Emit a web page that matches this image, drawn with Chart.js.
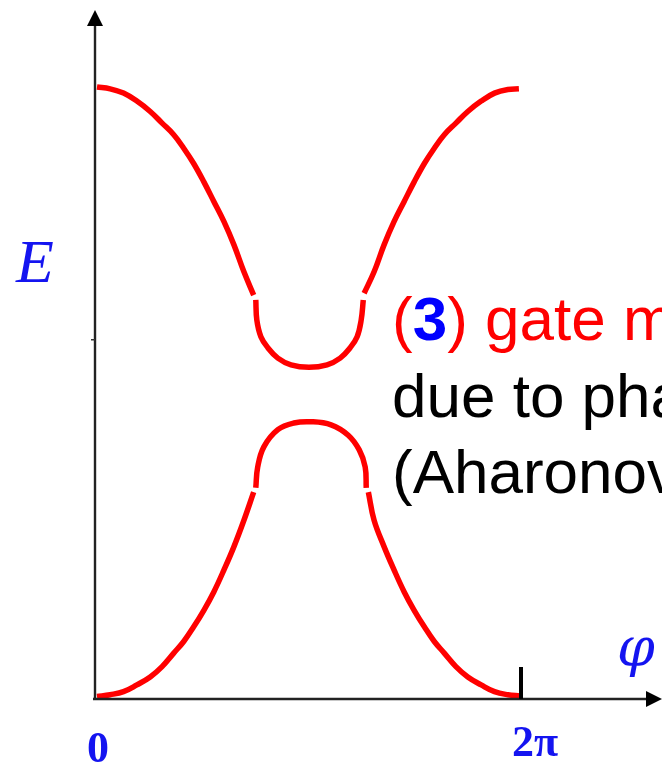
<!DOCTYPE html>
<html>
<head>
<meta charset="utf-8">
<script src="https://cdn.jsdelivr.net/npm/chart.js@4/dist/chart.umd.min.js"></script>
<style>
  html, body { margin: 0; padding: 0; background: #ffffff; }
  canvas { display: block; }
</style>
</head>
<body>
<canvas id="bands" width="662" height="764"></canvas>
<script>
// Phase axis in units of pi (0 .. 2 means 0 .. 2π); energy in arbitrary units.

// Upper band: outer branches and the rounded bottom near φ = π
const upperLeftPhi   = [0, 0.062, 0.125, 0.188, 0.251, 0.307, 0.362, 0.409, 0.456, 0.504, 0.551, 0.599, 0.646, 0.693, 0.739];
const upperLeftE     = [1.000, 0.997, 0.990, 0.977, 0.960, 0.941, 0.922, 0.900, 0.875, 0.845, 0.813, 0.780, 0.742, 0.698, 0.660];
const upperMidPhi    = [0.749, 0.754, 0.773, 0.806, 0.853, 0.915, 1.000, 1.085, 1.147, 1.194, 1.227, 1.246, 1.256];
const upperMidE      = [0.652, 0.619, 0.592, 0.574, 0.557, 0.546, 0.542, 0.546, 0.557, 0.574, 0.592, 0.619, 0.652];
const upperRightPhi  = [1.260, 1.307, 1.354, 1.401, 1.449, 1.496, 1.544, 1.591, 1.638, 1.693, 1.749, 1.812, 1.875, 1.938, 1.990];
const upperRightE    = [0.663, 0.698, 0.742, 0.780, 0.813, 0.845, 0.875, 0.900, 0.922, 0.941, 0.960, 0.977, 0.990, 0.996, 0.997];

// Lower band: outer branches and the rounded top near φ = π
const lowerLeftPhi   = [0, 0.062, 0.125, 0.188, 0.251, 0.307, 0.362, 0.409, 0.456, 0.504, 0.551, 0.599, 0.646, 0.693, 0.739];
const lowerLeftE     = [0.004, 0.007, 0.012, 0.023, 0.036, 0.053, 0.075, 0.094, 0.118, 0.145, 0.175, 0.211, 0.249, 0.292, 0.338];
const lowerMidPhi    = [0.749, 0.758, 0.787, 0.853, 0.929, 1.009, 1.104, 1.185, 1.237, 1.265, 1.270];
const lowerMidE      = [0.345, 0.379, 0.412, 0.440, 0.451, 0.453, 0.448, 0.431, 0.407, 0.379, 0.345];
const lowerRightPhi  = [1.280, 1.307, 1.354, 1.401, 1.449, 1.496, 1.544, 1.591, 1.638, 1.693, 1.749, 1.812, 1.875, 1.938, 1.995];
const lowerRightE    = [0.338, 0.292, 0.249, 0.211, 0.175, 0.145, 0.118, 0.094, 0.075, 0.053, 0.036, 0.023, 0.012, 0.007, 0.005];

// Axis marks and labels
const phiTickValue = 2;          // the 2π mark
const phiTickLabels = ['0', '2π'];
const energyTickValue = 0.587;   // small mark on the energy axis
const axisTitleX = 'φ';
const axisTitleY = 'E';
const captionLines = ['due to pha', '(Aharonov'];

function toPoints(xs, ys) {
  return xs.map((x, i) => ({ x: x, y: ys[i] }));
}

const bandColor = '#ff0000';
function band(xs, ys) {
  return {
    data: toPoints(xs, ys),
    borderColor: bandColor,
    borderWidth: 5.5,
    pointRadius: 0,
    fill: false,
    tension: 0.4,
    borderCapStyle: 'butt'
  };
}

// Arrowed axes, tick marks and text labels
const decorations = {
  id: 'decorations',
  afterDatasetsDraw(chart) {
    const { ctx, chartArea, scales } = chart;
    const xs = scales.x, ys = scales.y;
    const x0 = 95, y0 = ys.getPixelForValue(0);
    ctx.save();
    ctx.strokeStyle = '#222222';
    ctx.fillStyle = '#000000';
    ctx.lineWidth = 2.4;

    // energy axis
    ctx.beginPath();
    ctx.moveTo(x0, y0 + 1);
    ctx.lineTo(x0, chartArea.top + 12);
    ctx.stroke();
    ctx.beginPath();
    ctx.moveTo(x0, chartArea.top);
    ctx.lineTo(x0 - 8, chartArea.top + 16);
    ctx.lineTo(x0 + 8, chartArea.top + 16);
    ctx.closePath();
    ctx.fill();

    // phase axis
    ctx.beginPath();
    ctx.moveTo(x0 - 2, y0);
    ctx.lineTo(chartArea.right - 12, y0);
    ctx.stroke();
    ctx.beginPath();
    ctx.moveTo(chartArea.right, y0);
    ctx.lineTo(chartArea.right - 16, y0 - 8);
    ctx.lineTo(chartArea.right - 16, y0 + 8);
    ctx.closePath();
    ctx.fill();

    // 2π mark
    const tx = xs.getPixelForValue(phiTickValue);
    ctx.lineWidth = 4;
    ctx.strokeStyle = '#000000';
    ctx.beginPath();
    ctx.moveTo(tx, y0 - 32);
    ctx.lineTo(tx, y0);
    ctx.stroke();

    // small energy mark
    const ty = ys.getPixelForValue(energyTickValue);
    ctx.lineWidth = 1.5;
    ctx.strokeStyle = '#333333';
    ctx.beginPath();
    ctx.moveTo(x0 - 4, ty);
    ctx.lineTo(x0, ty);
    ctx.stroke();

    // tick labels
    const blue = '#1414f0';
    ctx.fillStyle = blue;
    ctx.textAlign = 'center';
    ctx.textBaseline = 'alphabetic';
    ctx.font = 'bold 44px "Liberation Serif"';
    ctx.fillText(phiTickLabels[0], xs.getPixelForValue(0) + 1, 762);
    ctx.fillText(phiTickLabels[1], tx + 14, 756);

    // axis titles
    ctx.font = 'italic 62px "Liberation Serif"';
    ctx.fillText(axisTitleY, 35, 282);
    ctx.font = 'italic 54px "DejaVu Serif"';
    ctx.fillText(axisTitleX, 636, 666);

    // caption
    ctx.textAlign = 'left';
    const fs = 62;
    let cx = 392;
    const base1 = 340;
    ctx.font = fs + 'px "Liberation Sans"';
    ctx.fillStyle = '#ff0000';
    ctx.fillText('(', cx, base1);
    cx += ctx.measureText('(').width;
    ctx.font = 'bold ' + fs + 'px "Liberation Sans"';
    ctx.fillStyle = '#0000ff';
    ctx.fillText('3', cx, base1);
    cx += ctx.measureText('3').width;
    ctx.font = fs + 'px "Liberation Sans"';
    ctx.fillStyle = '#ff0000';
    ctx.fillText(') gate m', cx, base1);

    ctx.fillStyle = '#000000';
    ctx.fillText(captionLines[0], 392, 417);
    ctx.fillText(captionLines[1], 392, 493);
    ctx.restore();
  }
};

new Chart(document.getElementById('bands'), {
  type: 'line',
  data: {
    datasets: [
      band(upperLeftPhi, upperLeftE),
      band(upperMidPhi, upperMidE),
      band(upperRightPhi, upperRightE),
      band(lowerLeftPhi, lowerLeftE),
      band(lowerMidPhi, lowerMidE),
      band(lowerRightPhi, lowerRightE)
    ]
  },
  options: {
    responsive: false,
    devicePixelRatio: 1,
    animation: false,
    layout: { padding: { left: 95, right: 0, top: 10, bottom: 65 } },
    plugins: { legend: { display: false }, tooltip: { enabled: false } },
    scales: {
      x: { type: 'linear', display: false, min: -0.0094, max: 2.665 },
      y: { type: 'linear', display: false, min: 0, max: 1.1258 }
    }
  },
  plugins: [decorations]
});
</script>
</body>
</html>
